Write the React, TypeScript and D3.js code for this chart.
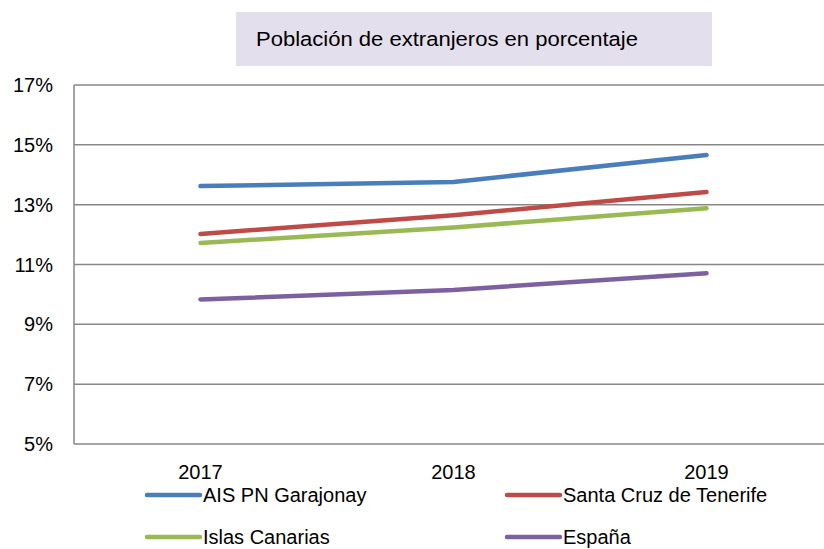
import React from "react";
import * as d3 from "d3";

const years = ["2017", "2018", "2019"];
const yTicks = [5, 7, 9, 11, 13, 15, 17];
const seriesNames = ["AIS PN Garajonay", "Santa Cruz de Tenerife", "Islas Canarias", "España"];
const garajonay = [13.62, 13.76, 14.66];
const santaCruz = [12.02, 12.65, 13.42];
const canarias = [11.72, 12.24, 12.88];
const espana = [9.83, 10.15, 10.71];
const colors = ["#4A7EBB", "#BE4B48", "#98B954", "#7D60A0"];
const title = "Población de extranjeros en porcentaje";

const W = 824;
const H = 549;
const plotLeft = 74;
const plotTop = 85;
const plotBottom = 444;
const band = 253;

export default function App() {
  const allSeries = [garajonay, santaCruz, canarias, espana];
  const x = d3
    .scaleBand<string>()
    .domain(years)
    .range([plotLeft, plotLeft + band * years.length]);
  const y = d3.scaleLinear().domain([5, 17]).range([plotBottom, plotTop]);
  const line = d3
    .line<number>()
    .x((_, i) => (x(years[i]) as number) + x.bandwidth() / 2)
    .y((d) => y(d));
  const font = "'Liberation Sans Narrow', 'Liberation Sans', Arial, sans-serif";
  const legendItems = seriesNames.map((n, i) => ({
    name: n,
    color: colors[i],
    sx: i % 2 === 0 ? 147 : 507,
    sy: i < 2 ? 495 : 537,
  }));
  return (
    <svg
      width={W}
      height={H}
      style={{ position: "absolute", left: 0, top: 0, background: "#fff" }}
      fontFamily={font}
    >
      <rect x={236} y={12} width={476} height={54} fill="#E4DFEC" />
      <text x={256} y={46} fontSize={20} fill="#000" textLength={382} lengthAdjust="spacingAndGlyphs">
        {title}
      </text>
      {yTicks.map((t) => (
        <g key={t}>
          <line x1={plotLeft} x2={W} y1={y(t)} y2={y(t)} stroke="#878787" strokeWidth={1.5} />
          <text x={53} y={y(t) + 7} fontSize={20} textAnchor="end" fill="#000">
            {t}%
          </text>
        </g>
      ))}
      <line x1={plotLeft} x2={plotLeft} y1={plotTop} y2={plotBottom} stroke="#878787" strokeWidth={1.5} />
      {years.map((yr) => (
        <text
          key={yr}
          x={(x(yr) as number) + x.bandwidth() / 2}
          y={479}
          fontSize={20}
          textAnchor="middle"
          fill="#000"
        >
          {yr}
        </text>
      ))}
      {allSeries.map((s, i) => (
        <path
          key={i}
          d={line(s) || ""}
          fill="none"
          stroke={colors[i]}
          strokeWidth={4.5}
          strokeLinecap="round"
          strokeLinejoin="round"
        />
      ))}
      {legendItems.map((it) => (
        <g key={it.name}>
          <line
            x1={it.sx}
            x2={it.sx + 53}
            y1={it.sy}
            y2={it.sy}
            stroke={it.color}
            strokeWidth={4.5}
            strokeLinecap="round"
          />
          <text x={it.sx + 56} y={it.sy + 7} fontSize={20} fill="#000">
            {it.name}
          </text>
        </g>
      ))}
    </svg>
  );
}
